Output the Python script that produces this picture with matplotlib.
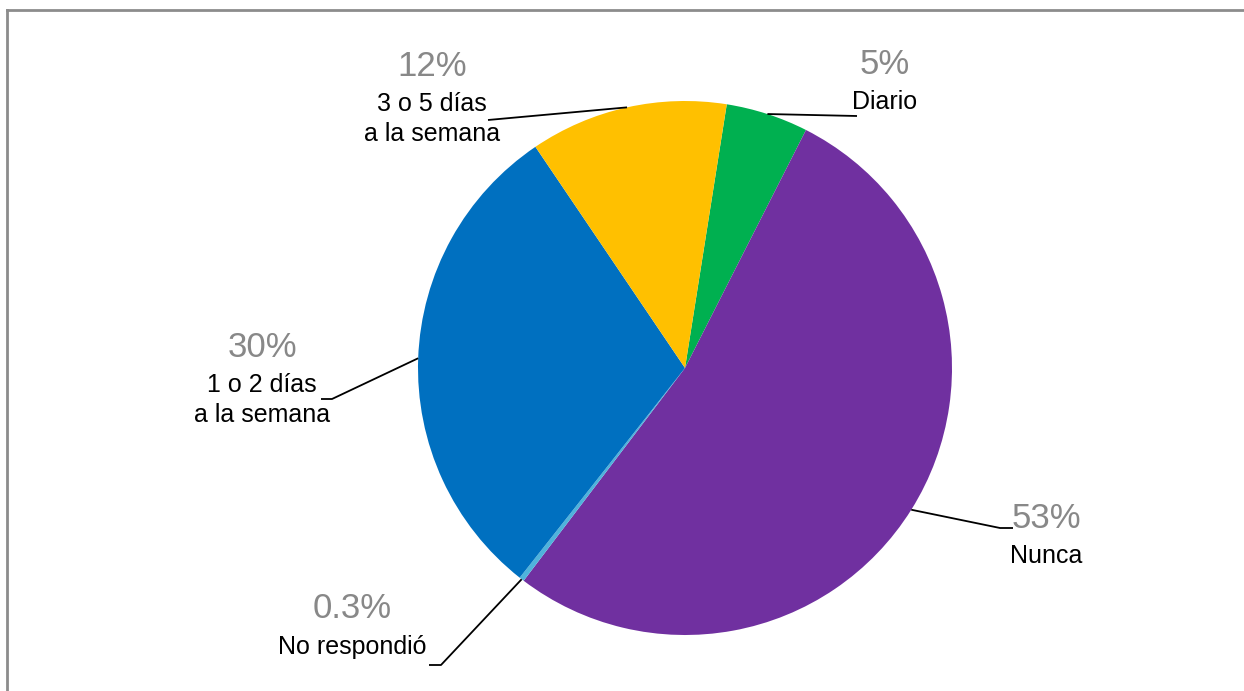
import numpy as np
import matplotlib
matplotlib.use("Agg")
import matplotlib.pyplot as plt
from matplotlib.lines import Line2D

# Survey answers: how often
categories = ["Diario", "Nunca", "No respondió", "1 o 2 días\na la semana", "3 o 5 días\na la semana"]
values = [5, 53, 0.3, 30, 12]
pct_labels = ["5%", "53%", "0.3%", "30%", "12%"]
colors = ["#00B050", "#7030A0", "#4FB3DC", "#0070C0", "#FFC000"]

W, H = 1244, 691
plt.rcParams["font.family"] = ["Liberation Sans Narrow", "Liberation Sans", "DejaVu Sans"]

fig = plt.figure(figsize=(W / 100, H / 100), dpi=100)
ax = fig.add_axes([0, 0, 1, 1])

cx, cy, r = 685, H - 368, 267
wedges, _ = ax.pie(values, colors=colors, startangle=81, counterclock=False,
                   center=(cx, cy), radius=r, frame=True,
                   wedgeprops=dict(linewidth=0))
ax.set_xlim(0, W)
ax.set_ylim(0, H)
ax.set_aspect("equal")
ax.axis("off")

# label block placement (percent line on top, category below) and leader elbows
label_pos = [(885, H - 64), (1046, H - 518), (352, H - 609), (262, H - 347), (432, H - 66)]
elbows = [
    [(857, H - 116)],
    [(1000, H - 528), (1013, H - 528)],
    [(441, H - 665), (429, H - 665)],
    [(332, H - 399), (321, H - 399)],
    [(488, H - 120)],
]

for w, cat, pct, (lx, ly), elb in zip(wedges, categories, pct_labels, label_pos, elbows):
    mid = np.deg2rad((w.theta1 + w.theta2) / 2)
    ex, ey = cx + r * np.cos(mid), cy + r * np.sin(mid)
    xs = [ex] + [p[0] for p in elb]
    ys = [ey] + [p[1] for p in elb]
    ax.plot(xs, ys, color="black", lw=1.3, solid_capstyle="butt", zorder=3)
    ax.text(lx, ly, pct, ha="center", va="center", fontsize=25, color="#888888")
    ax.text(lx, ly - 26, cat, ha="center", va="top", fontsize=18, color="black",
            linespacing=1.3)

# outer frame (left and top edges visible)
fig.add_artist(Line2D([7.5 / W, 7.5 / W], [0, 1 - 9.5 / H], color="#8C8C8C", lw=2,
                      transform=fig.transFigure))
fig.add_artist(Line2D([7.5 / W, 1], [1 - 9.5 / H, 1 - 9.5 / H], color="#8C8C8C", lw=2,
                      transform=fig.transFigure))

fig.savefig("out.png", dpi=100, facecolor="white")
